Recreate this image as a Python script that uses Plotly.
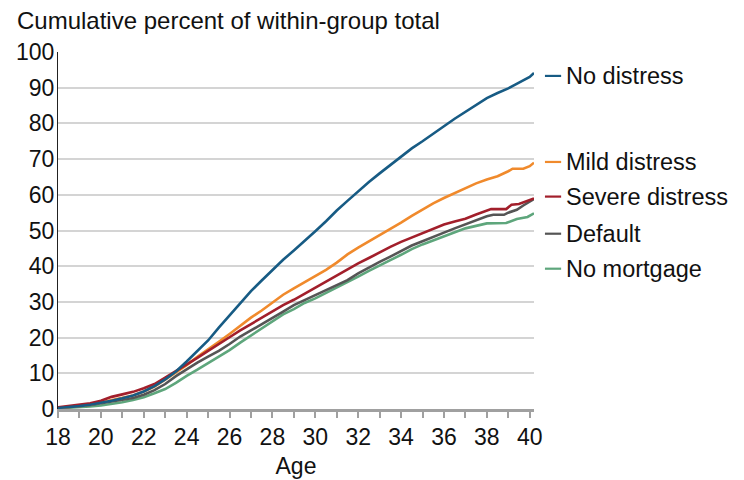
import plotly.graph_objects as go

# ---------------- data ----------------
series_names = ["No distress", "Mild distress", "Severe distress", "Default", "No mortgage"]
series_colors = ["#175b84", "#f08a2c", "#a21f2b", "#555555", "#5ea67c"]

ages_std = [18, 18.5, 19, 19.5, 20, 20.5, 21, 21.5, 22, 22.5, 23, 23.5, 24, 24.5, 25, 25.5,
            26, 26.5, 27, 27.5, 28, 28.5, 29, 29.5, 30, 30.5, 31, 31.5, 32, 32.5, 33, 33.5,
            34, 34.5, 35, 35.5, 36, 36.5, 37, 37.5, 38]

no_distress_ages = ages_std + [38.5, 39, 39.5, 40, 40.2]
no_distress = [0.3, 0.5, 0.8, 1.2, 1.7, 2.3, 3.0, 3.8, 4.9, 6.4, 8.3, 10.5, 13.3, 16.3, 19.2, 22.8,
               26.2, 29.6, 33.0, 36.0, 39.0, 41.8, 44.4, 47.0, 49.8, 52.6, 55.6, 58.3, 61.0, 63.6, 66.0, 68.3,
               70.6, 73.0, 75.0, 77.2, 79.2, 81.3, 83.3, 85.3, 87.1, 88.5, 89.8, 91.4, 93.0, 94.1]

mild_ages = ages_std + [38.5, 39, 39.2, 39.7, 40, 40.2]
mild_distress = [0.3, 0.5, 0.8, 1.2, 1.8, 2.4, 3.1, 3.8, 4.9, 6.3, 8.2, 10.2, 12.3, 14.6, 16.6, 18.8,
                 21.0, 23.4, 25.6, 27.6, 29.8, 32.0, 33.8, 35.5, 37.1, 39.0, 41.0, 43.3, 45.2, 46.9, 48.7, 50.5,
                 52.2, 54.1, 55.9, 57.6, 59.1, 60.5, 61.9, 63.2, 64.3, 65.2, 66.6, 67.3, 67.3, 68.0, 69.0]

severe_ages = ages_std + [38.2, 38.9, 39.15, 39.5, 39.8, 40.2]
severe_distress = [0.5, 0.8, 1.1, 1.6, 2.3, 3.4, 4.1, 4.8, 5.8, 7.0, 8.8, 10.6, 12.4, 14.3, 16.3, 18.1,
                   20.1, 22.0, 23.8, 25.6, 27.4, 29.1, 30.6, 32.3, 34.1, 35.6, 37.3, 39.1, 40.8, 42.3, 43.9, 45.4,
                   46.8, 48.0, 49.1, 50.4, 51.7, 52.5, 53.3, 54.5, 55.6, 56.0, 56.0, 57.2, 57.4, 58.0, 59.0]

default_ages = ages_std + [38.3, 38.8, 39.0, 39.4, 39.7, 40.2]
default = [0.3, 0.5, 0.8, 1.1, 1.6, 2.0, 2.6, 3.1, 4.0, 5.3, 7.0, 9.2, 11.2, 13.0, 14.7, 16.3,
           18.2, 20.3, 22.0, 23.7, 25.6, 27.3, 29.1, 30.5, 31.8, 33.2, 34.7, 36.1, 38.0, 39.7, 41.2, 42.7,
           44.2, 45.8, 47.0, 48.1, 49.4, 50.6, 51.8, 53.0, 54.0, 54.4, 54.4, 55.0, 55.8, 57.0, 58.8]

no_mortgage_ages = ages_std + [38.9, 39.4, 39.9, 40.2]
no_mortgage = [0.2, 0.3, 0.4, 0.7, 1.0, 1.4, 1.9, 2.5, 3.3, 4.4, 5.6, 7.3, 9.3, 11.0, 12.8, 14.6,
               16.5, 18.6, 20.6, 22.4, 24.5, 26.5, 28.0, 29.7, 31.0, 32.5, 34.0, 35.4, 37.1, 38.7, 40.3, 41.7,
               43.2, 44.8, 46.1, 47.2, 48.5, 49.6, 50.6, 51.3, 52.0, 52.1, 53.2, 53.8, 54.8]

series_ages = [no_distress_ages, mild_ages, severe_ages, default_ages, no_mortgage_ages]
series_values = [no_distress, mild_distress, severe_distress, default, no_mortgage]

# vertical positions (in y-axis units) of the right-hand labels
label_y = [93.3, 69.2, 59.5, 49.1, 39.3]

x_ticks = list(range(18, 41, 2))
y_ticks = list(range(0, 101, 10))

FONT = "Liberation Sans, Arial, sans-serif"

fig = go.Figure()
# draw from bottom to top so that the order of overlaps matches
for i in [4, 3, 1, 2, 0]:
    fig.add_trace(go.Scatter(
        x=series_ages[i], y=series_values[i], mode="lines", name=series_names[i],
        line=dict(color=series_colors[i], width=2.6), showlegend=False,
    ))

for name, color, ly in zip(series_names, series_colors, label_y):
    fig.add_shape(type="line", xref="paper", yref="y", x0=1.023, x1=1.057, y0=ly, y1=ly,
                  line=dict(color=color, width=2.2))
    fig.add_annotation(xref="paper", yref="y", x=1.063, y=ly, text=name, showarrow=False,
                       xanchor="left", yanchor="middle", font=dict(size=23.5, color="#111111", family=FONT))

# the page body adds an 8px offset, compensated in the margins
fig.update_layout(
    width=744, height=480,
    margin=dict(l=50, r=218, t=44, b=79, autoexpand=False),
    paper_bgcolor="white", plot_bgcolor="white",
    font=dict(family=FONT, size=23, color="#111111"),
    title=dict(text="Cumulative percent of within-group total", x=9 / 744, xanchor="left",
               xref="container", y=1 - 13 / 480, yref="container", yanchor="middle",
               font=dict(size=24, color="#111111", family=FONT)),
)

fig.update_xaxes(
    range=[18, 40.2], tickvals=x_ticks, ticktext=[str(t) for t in x_ticks],
    showgrid=False, zeroline=False, automargin=False,
    showline=True, linecolor="#a0a0a0", linewidth=2.5,
    ticks="outside", ticklen=6, tickwidth=1.5, tickcolor="#a0a0a0",
    minor=dict(dtick=1, tick0=18, ticks="outside", ticklen=6, tickwidth=1.5, tickcolor="#a0a0a0"),
    tickfont=dict(size=23), title=dict(text="Age", font=dict(size=23), standoff=9),
)
fig.update_yaxes(
    range=[0, 100], tickvals=y_ticks, showgrid=True, gridcolor="#d4d4d4", gridwidth=1.5,
    zeroline=False, showline=True, linecolor="#222222", linewidth=1, automargin=False,
    ticks="", ticklabelstandoff=-2, tickfont=dict(size=23),
)

fig.write_html("out.html")
